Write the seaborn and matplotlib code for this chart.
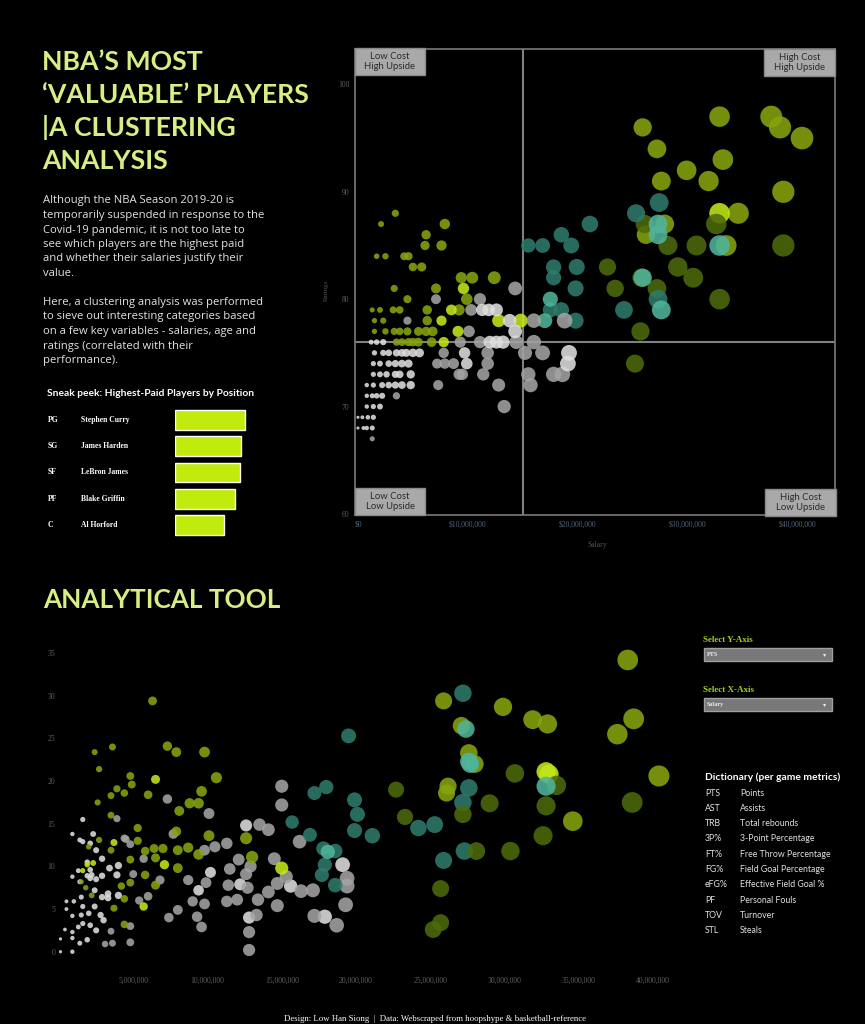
import pandas as pd
import matplotlib.pyplot as plt
import seaborn as sns
from matplotlib.patches import Rectangle
from matplotlib.ticker import FuncFormatter

W, H = 865, 1024

# ---- Dados: grafico de cima (salario em milhoes, rating) ----
top_olive = [(25.9, 96), (32.9, 97), (37.6, 97), (38.4, 96), (40.4, 95), (27.2, 94), (33.2, 93),
             (29.9, 92), (27.6, 91), (31.9, 91), (38.7, 90), (34.6, 88), (27.9, 87), (26.2, 86),
             (33.5, 85), (3.4, 88), (2.1, 87), (7.9, 87), (6.2, 86), (6.1, 85), (7.6, 85), (1.7, 84),
             (2.5, 84), (4.2, 84), (4.6, 84), (5.0, 83), (5.8, 83), (9.4, 82), (10.4, 82), (12.4, 82),
             (3.3, 81), (7.1, 81), (4.5, 80), (9.9, 80), (1.3, 79), (2.0, 79), (3.2, 79), (3.8, 79),
             (6.3, 79), (9.2, 79), (1.5, 78), (2.3, 78), (6.3, 78), (1.5, 77), (2.5, 77), (3.3, 77),
             (3.8, 77), (4.5, 77), (5.5, 77), (6.2, 77), (6.8, 77), (3.5, 76), (4.0, 76), (4.6, 76),
             (5.0, 76), (5.5, 76), (6.7, 76)]
top_lime = [(32.9, 88), (9.6, 81), (8.5, 79), (7.6, 78), (12.8, 78), (14.8, 78), (9.1, 77), (7.8, 76)]
top_dark = [(32.6, 87), (26.1, 87), (28.2, 85), (30.8, 85), (38.7, 85), (22.7, 83), (29.1, 83),
            (25.8, 82), (30.5, 82), (23.4, 81), (27.2, 81), (32.9, 80), (25.7, 77), (25.2, 74)]
top_teal = [(27.4, 89), (25.3, 88), (21.1, 87), (18.5, 86), (15.5, 85), (16.8, 85), (19.4, 85),
            (17.8, 83), (19.9, 83), (17.8, 82), (19.8, 81), (27.3, 80), (17.5, 79), (18.5, 79),
            (24.2, 79), (19.8, 78)]
top_lteal = [(27.3, 87), (27.3, 86), (32.9, 85), (25.9, 82), (17.5, 80), (27.6, 79), (17.0, 78)]
top_gray = [(14.3, 81), (7.1, 80), (11.1, 80), (10.3, 79), (4.5, 78), (16.0, 78), (18.8, 78),
            (10.1, 77), (9.3, 76), (11.1, 76), (14.4, 76), (16.0, 76), (7.8, 75), (11.8, 75),
            (15.2, 75), (16.8, 75), (7.2, 74), (7.9, 74), (8.7, 74), (11.8, 74), (9.2, 73), (9.5, 73),
            (11.4, 73), (15.5, 73), (17.8, 73), (18.6, 73), (7.3, 72), (12.8, 72), (15.7, 72),
            (3.5, 71), (13.3, 70), (1.3, 67)]
top_white = [(11.3, 79), (11.9, 79), (12.6, 79), (13.8, 78), (14.3, 77), (1.2, 76), (1.7, 76),
             (2.3, 76), (12.0, 76), (12.6, 76), (13.2, 76), (1.5, 75), (2.3, 75), (2.8, 75), (3.5, 75),
             (4.0, 75), (4.4, 75), (5.0, 75), (5.6, 75), (9.7, 75), (19.2, 75), (1.4, 74), (2.0, 74),
             (2.8, 74), (3.4, 74), (4.0, 74), (4.6, 74), (9.9, 74), (19.1, 74), (1.4, 73), (2.0, 73),
             (2.6, 73), (3.4, 73), (3.8, 73), (4.8, 73), (0.8, 72), (1.4, 72), (2.2, 72), (2.8, 72),
             (3.4, 72), (4.0, 72), (4.8, 72), (0.8, 71), (1.3, 71), (1.7, 71), (2.2, 71), (0.8, 70),
             (1.4, 70), (2.0, 70), (0.0, 69), (0.4, 69), (0.9, 69), (1.4, 69), (0.0, 68), (0.5, 68),
             (0.8, 68), (1.3, 68)]

# ---- Dados: ferramenta analitica (salario em milhoes, PTS) ----
bot_olive = [(6.3, 29.4), (2.4, 23.4), (3.6, 24.0), (7.3, 24.1), (7.9, 23.4), (9.8, 23.4), (2.7, 21.4),
             (4.8, 20.6), (10.6, 20.4), (4.9, 19.6), (3.9, 19.1), (9.6, 18.8), (3.5, 18.3), (4.4, 18.6),
             (6.0, 18.4), (2.6, 17.5), (8.8, 17.4), (9.4, 17.4), (8.1, 16.5), (3.5, 16.0), (5.3, 14.5),
             (10.1, 13.6), (7.9, 14.1), (2.7, 13.1), (5.3, 13.0), (12.6, 13.3), (2.0, 12.3), (6.4, 12.1),
             (5.8, 11.8), (7.0, 12.1), (8.0, 11.9), (8.7, 12.2), (9.4, 11.4), (3.5, 11.9), (6.5, 11.0),
             (13.0, 11.1), (4.8, 10.8), (8.0, 9.8), (5.8, 9.0), (6.5, 7.8), (4.2, 7.7), (4.8, 8.1),
             (2.2, 6.6), (4.4, 6.2), (3.7, 5.1), (4.4, 3.2), (1.8, 7.5), (1.5, 8.2), (25.9, 29.4),
             (29.9, 28.7), (31.9, 27.2), (32.9, 26.7), (38.7, 27.3), (37.6, 25.5), (27.1, 26.5),
             (27.6, 23.3), (40.4, 20.6), (34.6, 15.3), (26.2, 19.4), (26.1, 18.6), (28.0, 22.0),
             (38.3, 34.2)]
bot_lime = [(6.5, 20.2), (3.7, 12.8), (2.3, 10.4), (7.1, 10.2), (15.0, 9.8), (1.9, 10.2), (5.7, 5.3),
            (1.6, 9.5), (32.8, 21.1), (33.0, 20.8)]
bot_dark = [(22.7, 19.0), (23.3, 15.8), (25.7, 7.4), (25.2, 2.6), (25.7, 3.4), (30.7, 20.9), (33.5, 19.5),
            (29.0, 17.4), (32.8, 17.1), (38.6, 17.5), (27.2, 16.1), (32.6, 13.6), (28.1, 11.8), (30.4, 11.8)]
bot_teal = [(19.5, 25.3), (17.2, 18.6), (18.0, 19.3), (19.9, 17.8), (20.1, 16.1), (15.7, 15.2), (16.9, 13.7),
            (19.9, 14.2), (21.1, 13.6), (17.8, 12.1), (18.6, 11.8), (17.9, 10.2), (17.7, 9.0), (18.6, 7.8),
            (24.2, 14.5), (25.3, 14.9), (25.9, 10.7), (27.2, 30.3), (27.6, 19.2), (27.2, 17.5), (27.3, 11.8)]
bot_lteal = [(18.1, 11.7), (27.4, 26.1), (27.6, 22.3), (27.7, 22.0), (32.8, 19.4)]
bot_gray = [(15.0, 19.4), (15.0, 17.2), (7.3, 17.9), (10.1, 16.2), (3.9, 15.6), (13.5, 14.9), (14.1, 14.3),
            (16.2, 12.9), (11.3, 12.7), (10.5, 12.3), (9.8, 11.9), (7.7, 13.8), (4.5, 13.2), (4.8, 12.6),
            (12.1, 10.8), (14.5, 10.9), (12.9, 10.0), (11.5, 9.7), (12.6, 9.1), (15.3, 8.8), (19.4, 8.6),
            (6.8, 8.4), (8.7, 8.4), (9.9, 8.1), (11.4, 7.8), (12.7, 7.5), (14.7, 8.0), (14.1, 7.0),
            (16.3, 7.1), (17.1, 7.2), (19.4, 7.7), (6.0, 6.5), (5.4, 6.0), (9.0, 5.9), (9.8, 5.6),
            (11.3, 5.9), (12.0, 6.1), (13.4, 6.1), (14.7, 5.4), (19.3, 5.5), (8.0, 4.9), (9.3, 4.1),
            (7.4, 4.0), (9.6, 2.9), (13.3, 4.3), (17.2, 4.2), (18.7, 3.1), (12.8, 2.3), (12.8, 0.2),
            (4.8, 3.0), (4.8, 1.1), (3.6, 1.0), (3.1, 0.9), (3.5, 2.4), (5.7, 10.9), (5.0, 9.1), (4.4, 13.3)]
bot_white = [(12.6, 14.8), (19.1, 10.2), (10.2, 9.3), (12.2, 7.9), (15.6, 7.7), (9.4, 7.2), (12.8, 4.0),
             (17.9, 4.1), (0.9, 13.8), (1.6, 15.5), (2.3, 13.8), (1.4, 13.1), (1.6, 12.9), (2.5, 11.9),
             (2.9, 10.9), (1.9, 10.5), (1.3, 9.5), (0.9, 8.8), (2.1, 9.6), (2.5, 8.5), (1.4, 8.2), (2.1, 8.6),
             (2.4, 7.2), (1.5, 6.4), (2.9, 6.4), (3.3, 6.8), (1.0, 5.9), (0.5, 5.9), (1.6, 5.3), (2.0, 4.5),
             (1.5, 4.3), (2.4, 5.3), (2.8, 4.3), (3.0, 3.7), (1.6, 3.3), (2.1, 3.1), (2.5, 2.5), (1.3, 2.9),
             (0.9, 2.3), (0.9, 1.6), (1.4, 1.0), (1.9, 1.4), (0.9, 0.0), (0.4, 2.6), (0.9, 4.2), (0.5, 5.0),
             (2.1, 12.7), (2.2, 9.0), (3.4, 9.8), (3.9, 9.0), (4.0, 10.1), (3.3, 6.3), (4.0, 6.6), (2.9, 8.9),
             (1.9, 8.9), (0.1, 1.5), (0.1, 0.0)]

# ---- Dados: sneak peek ----
posicoes = ['PG', 'SG', 'SF', 'PF', 'C']
jogadores = ['Stephen Curry', 'James Harden', 'LeBron James', 'Blake Griffin', 'Al Horford']
salarios_top = [40.2, 38.2, 37.4, 34.4, 28.0]

dic_siglas = ['PTS', 'AST', 'TRB', '3P%', 'FT%', 'FG%', 'eFG%', 'PF', 'TOV', 'STL']
dic_nomes = ['Points', 'Assists', 'Total rebounds', '3-Point Percentage', 'Free Throw Percentage',
             'Field Goal Percentage', 'Effective Field Goal %', 'Personal Fouls', 'Turnover', 'Steals']

cores = {'olive': '#86a40e', 'lime': '#c3e818', 'dark': '#4d6a0c', 'teal': '#2e7a6b',
         'lteal': '#4fb49b', 'gray': '#a3a3a3', 'white': '#dedede'}


def monta_df(grupos):
    linhas = []
    for nome, pontos in grupos.items():
        for sal, val in pontos:
            linhas.append((sal, val, nome))
    return pd.DataFrame(linhas, columns=['salary', 'value', 'cluster'])


def px_axes(fig, x0, y0, x1, y1, **kw):
    return fig.add_axes([x0 / W, 1 - y1 / H, (x1 - x0) / W, (y1 - y0) / H], **kw)


def fonte_ticks(ax, cor, tam):
    for lab in ax.get_xticklabels() + ax.get_yticklabels():
        lab.set_family('Liberation Serif')
        lab.set_color(cor)
        lab.set_fontsize(tam)


sns.set_theme(style='dark', rc={'figure.facecolor': 'black', 'axes.facecolor': 'black',
                                'savefig.facecolor': 'black'})
plt.rcParams['font.family'] = ['Lato', 'DejaVu Sans']

df_top = monta_df({'olive': top_olive, 'lime': top_lime, 'dark': top_dark, 'teal': top_teal,
                   'lteal': top_lteal, 'gray': top_gray, 'white': top_white})
df_bot = monta_df({'white': bot_white, 'gray': bot_gray, 'olive': bot_olive, 'lime': bot_lime,
                   'teal': bot_teal, 'dark': bot_dark, 'lteal': bot_lteal})

fig = plt.figure(figsize=(W / 100, H / 100), dpi=100)

# ---- Scatter de cima ----
ax = px_axes(fig, 355, 49, 835, 515)
sns.scatterplot(data=df_top, x='salary', y='value', hue='cluster', palette=cores, size='salary',
                sizes=(5, 265), size_norm=(0, 40), alpha=0.88, linewidth=0, legend=False, ax=ax)
ax.set_xlim(-0.27, 43.4)
ax.set_ylim(59.9, 103.3)
ax.axvline(15, color='#808080', lw=1.5, zorder=0)
ax.axhline(76, color='#808080', lw=1.5, zorder=0)
for s in ax.spines.values():
    s.set_visible(True)
    s.set_color('#7a7a7a')
    s.set_linewidth(1.2)
ax.set_xticks([0, 10, 20, 30, 40])
ax.set_yticks([60, 70, 80, 90, 100])
ax.xaxis.set_major_formatter(FuncFormatter(lambda v, p: f'${v * 1e6:,.0f}'))
ax.tick_params(length=0, pad=4)
ax.set_xlabel('')
ax.set_ylabel('')
fonte_ticks(ax, '#52657c', 5.5)
for lab in ax.get_yticklabels():
    lab.set_color('#5e5e5e')

# ---- Scatter de baixo ----
ax2 = px_axes(fig, 40, 640, 695, 975)
sns.scatterplot(data=df_bot, x='salary', y='value', hue='cluster', palette=cores, size='salary',
                sizes=(5, 230), size_norm=(0, 40), alpha=0.88, linewidth=0, legend=False, ax=ax2)
ax2.set_xlim(-1.28, 42.83)
ax2.set_ylim(-2.73, 36.54)
ax2.set_xticks([5, 10, 15, 20, 25, 30, 35, 40])
ax2.set_yticks([0, 5, 10, 15, 20, 25, 30, 35])
ax2.xaxis.set_major_formatter(FuncFormatter(lambda v, p: f'{v * 1e6:,.0f}'))
ax2.tick_params(axis='x', length=0, pad=1.5)
ax2.tick_params(axis='y', length=0, pad=-11)
ax2.set_xlabel('')
ax2.set_ylabel('')
for s in ax2.spines.values():
    s.set_visible(False)
fonte_ticks(ax2, '#606060', 5.5)

# ---- Barras sneak peek ----
ax3 = px_axes(fig, 175, 407, 262, 538)
sns.barplot(x=salarios_top, y=jogadores, color='#c0eb0c', width=0.76, saturation=1, ax=ax3)
ax3.set_xlim(0, 50)
ax3.axis('off')
for i, (pos, nome) in enumerate(zip(posicoes, jogadores)):
    ax3.text(-1.46, i, pos, transform=ax3.get_yaxis_transform(), color='white', fontsize=5.5,
             fontweight='bold', family='Liberation Serif', va='center')
    ax3.text(-1.08, i, nome, transform=ax3.get_yaxis_transform(), color='white', fontsize=5.5,
             fontweight='bold', family='Liberation Serif', va='center')

# ---- Camada de textos (coordenadas em pixels) ----
ov = fig.add_axes([0, 0, 1, 1], zorder=10)
ov.set_xlim(0, W)
ov.set_ylim(H, 0)
ov.axis('off')
ov.patch.set_alpha(0)

titulo = ["NBA\u2019S MOST", "\u2018VALUABLE\u2019 PLAYERS", "|A CLUSTERING", "ANALYSIS"]
for i, linha in enumerate(titulo):
    ov.text(42, 62 + 33 * i, linha, color='#d6ee84', fontsize=19.2, fontweight='bold', va='center')

paragrafo = ["Although the NBA Season 2019-20 is", "temporarily suspended in response to the",
             "Covid-19 pandemic, it is not too late to", "see which players are the highest paid",
             "and whether their salaries justify their", "value.", "",
             "Here, a clustering analysis was performed", "to sieve out interesting categories based",
             "on a few key variables - salaries, age and", "ratings (correlated with their",
             "performance)."]
for i, linha in enumerate(paragrafo):
    ov.text(43, 201 + 14.5 * i, linha, color='#e2e2e2', fontsize=8.1, family='Open Sans',
            va='center')

ov.text(47, 394, 'Sneak peek: Highest-Paid Players by Position', color='white', fontsize=7.4,
        fontweight='bold', va='center')

ov.text(43, 600, 'ANALYTICAL TOOL', color='#d6ee84', fontsize=18.8, fontweight='bold', va='center')

# caixas dos quadrantes
caixas = [(355, 48, 70, 27, 'Low Cost\nHigh Upside'), (764, 49, 71, 27, 'High Cost\nHigh Upside'),
          (355, 488, 70, 27, 'Low Cost\nLow Upside'), (765, 489, 71, 27, 'High Cost\nLow Upside')]
for x, y, w, h, txt in caixas:
    ov.add_patch(Rectangle((x, y), w, h, facecolor='#a9a9a9', edgecolor='#8a8a8a', lw=1))
    ov.text(x + w / 2, y + h / 2, txt, ha='center', va='center', color='#2a2a2a', fontsize=6.8,
            linespacing=1.05)

ov.text(326, 290, 'Ratings', rotation=90, color='#555555', fontsize=5, family='Liberation Serif',
        ha='center', va='center')
ov.text(597, 545, 'Salary', color='#555555', fontsize=5.5, family='Liberation Serif',
        ha='center', va='center')

# seletores
for y, rotulo, valor in [(640, 'Select Y-Axis', 'PTS'), (690, 'Select X-Axis', 'Salary')]:
    ov.text(703, y, rotulo, color='#9fd11a', fontsize=6.5, family='Liberation Serif',
            fontweight='bold', va='center')
    ov.add_patch(Rectangle((704, y + 8), 128, 13, facecolor='#787878', edgecolor='#a0a0a0', lw=1))
    ov.text(707, y + 14.5, valor, color='#eeeeee', fontsize=4.5, family='Liberation Serif',
            fontweight='bold', va='center')
    ov.text(825, y + 14.5, '\u25be', color='#eeeeee', fontsize=4.5, family='DejaVu Sans',
            ha='center', va='center')

# dicionario
ov.text(705, 777, 'Dictionary (per game metrics)', color='white', fontsize=7.4, fontweight='bold',
        va='center')
for i, (sig, nome) in enumerate(zip(dic_siglas, dic_nomes)):
    ov.text(705, 793 + 15.3 * i, sig, color='#e0e0e0', fontsize=6.3, va='center')
    ov.text(740, 793 + 15.3 * i, nome, color='#e0e0e0', fontsize=6.3, va='center')

ov.text(435, 1019, 'Design: Low Han Siong  |  Data: Webscraped from hoopshype & basketball-reference',
        color='white', fontsize=6.3, family='Liberation Serif', ha='center', va='center')

plt.savefig('out.png', dpi=100, facecolor='black')
